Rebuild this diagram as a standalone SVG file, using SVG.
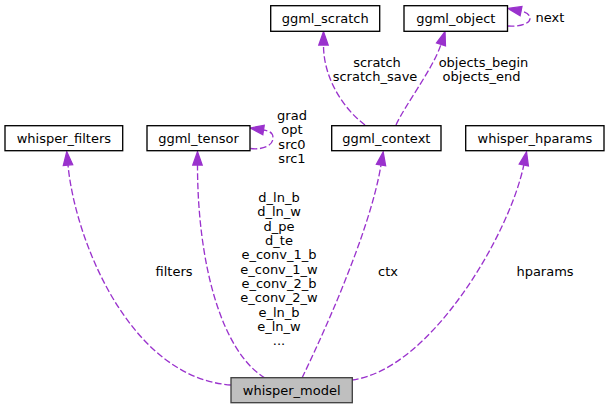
<svg xmlns="http://www.w3.org/2000/svg" width="609" height="409" viewBox="0 0 609 409">
<style>
  .box { fill: #ffffff; stroke: #000000; stroke-width: 1.33; }
  .cur { fill: #bfbfbf; stroke: #404040; stroke-width: 1.33; }
  .nt { font-family: "DejaVu Sans", sans-serif; font-size: 13px; fill: #000000; text-anchor: middle; }
  .el { font-family: "DejaVu Sans", sans-serif; font-size: 13px; fill: #000000; text-anchor: middle; }
  .edge { fill: none; stroke: #9a32cd; stroke-width: 1.33; stroke-dasharray: 6.7,2.7; }
</style>
<defs>
  <marker id="ah" markerUnits="userSpaceOnUse" markerWidth="16" markerHeight="12" refX="0" refY="5" orient="auto" overflow="visible">
    <polygon points="0,0.33 13.3,5 0,9.67" fill="#9a32cd" stroke="#9a32cd" stroke-width="1.33"/>
  </marker>
</defs>
<rect width="609" height="409" fill="#ffffff"/>

<g id="connectors">
  <!-- filters -->
  <path class="edge" marker-end="url(#ah)" d="M231,385 C130,378 75,240 68,165"/>
  <!-- tensor -->
  <path class="edge" marker-end="url(#ah)" d="M265,378 C222,352 197.5,265 197.5,165"/>
  <!-- ctx -->
  <path class="edge" marker-end="url(#ah)" d="M302,378 C318,345 369.5,235 381,165"/>
  <!-- hparams -->
  <path class="edge" marker-end="url(#ah)" d="M352,380 C430,370 509.3,235 523.8,165"/>
  <!-- scratch -->
  <path class="edge" marker-end="url(#ah)" d="M365,125 C345,110 323.5,80 323.5,45"/>
  <!-- objects -->
  <path class="edge" marker-end="url(#ah)" d="M396,125 C405,105 433.5,68 441,44.3"/>
  <!-- next self loop -->
  <path class="edge" marker-end="url(#ah)" d="M507.7,26 C518,27 530,24 530,18.5 C530,14.5 526,12 521,11"/>
  <!-- tensor self loop -->
  <path class="edge" marker-end="url(#ah)" d="M250.5,148.5 C262,150 273,146 273,138 C273,133 270,131 263.5,130"/>

  <text class="el" x="174" y="276">filters</text>
  <text class="el" x="388" y="276">ctx</text>
  <text class="el" x="545" y="276">hparams</text>
  <text class="el" x="377" y="66.5">scratch</text>
  <text class="el" x="375" y="80.8">scratch_save</text>
  <text class="el" x="483.5" y="66.5">objects_begin</text>
  <text class="el" x="481.5" y="80.8">objects_end</text>
  <text class="el" x="550" y="22">next</text>
  <text class="el" x="292" y="120">grad</text>
  <text class="el" x="292" y="134.3">opt</text>
  <text class="el" x="292" y="148.6">src0</text>
  <text class="el" x="292" y="162.9">src1</text>
  <text class="el" x="279" y="202">d_ln_b</text>
  <text class="el" x="279" y="216.3">d_ln_w</text>
  <text class="el" x="279" y="230.7">d_pe</text>
  <text class="el" x="279" y="245">d_te</text>
  <text class="el" x="279" y="259.3">e_conv_1_b</text>
  <text class="el" x="279" y="273.7">e_conv_1_w</text>
  <text class="el" x="279" y="288">e_conv_2_b</text>
  <text class="el" x="279" y="302.3">e_conv_2_w</text>
  <text class="el" x="279" y="316.7">e_ln_b</text>
  <text class="el" x="279" y="331">e_ln_w</text>
  <text class="el" x="279" y="345.3">...</text>
</g>

<g id="whisper_model">
  <rect class="cur" x="231" y="377.7" width="121.3" height="25"/>
  <text class="nt" x="291.7" y="394.6">whisper_model</text>
</g>
<g id="whisper_filters">
  <rect class="box" x="5" y="125.7" width="117.7" height="25"/>
  <text class="nt" x="63.9" y="142.6">whisper_filters</text>
</g>
<g id="ggml_tensor">
  <rect class="box" x="147" y="125.7" width="103" height="25"/>
  <text class="nt" x="198.5" y="142.6">ggml_tensor</text>
</g>
<g id="ggml_context">
  <rect class="box" x="331.7" y="125.7" width="109.3" height="25"/>
  <text class="nt" x="386.3" y="142.6">ggml_context</text>
</g>
<g id="whisper_hparams">
  <rect class="box" x="465.7" y="125.7" width="138.3" height="25"/>
  <text class="nt" x="534.9" y="142.6">whisper_hparams</text>
</g>
<g id="ggml_scratch">
  <rect class="box" x="270.7" y="5.7" width="109" height="25.6"/>
  <text class="nt" x="325.2" y="22.8">ggml_scratch</text>
</g>
<g id="ggml_object">
  <rect class="box" x="404" y="5.7" width="103.5" height="25.6"/>
  <text class="nt" x="455.8" y="22.8">ggml_object</text>
</g>
</svg>
